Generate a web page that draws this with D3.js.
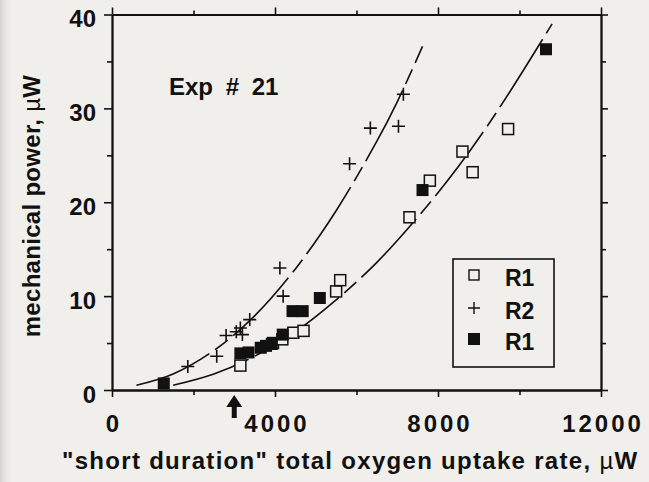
<!DOCTYPE html>
<html>
<head>
<meta charset="utf-8">
<script src="https://cdn.jsdelivr.net/npm/d3@7"></script>
<style>
  html, body { margin: 0; padding: 0; background: #f1efec; }
  svg { display: block; }
  text { font-family: 'Liberation Sans', Arial, Helvetica, sans-serif; font-weight: bold; fill: #111; }
  tspan.mu { font-weight: normal; }
</style>
</head>
<body>
<script>
// Axis ticks
const xMajorTicks = [0, 4000, 8000, 12000];
const xMinorTicks = [2000, 6000, 10000];
const yMajorTicks = [0, 10, 20, 30, 40];
const yMinorTicks = [5, 15, 25, 35];

// R1, open squares
const r1OpenX = [3150, 3950, 4180, 4450, 4700, 5500, 5600, 7300, 7800, 8850, 8600, 9720];
const r1OpenY = [2.6, 5.0, 5.4, 6.1, 6.3, 10.5, 11.7, 18.4, 22.3, 23.2, 25.4, 27.8];

// R1, filled squares
const r1FilledX = [1270, 3150, 3350, 3650, 3780, 3920, 4190, 4430, 4680, 5100, 7620, 10650];
const r1FilledY = [0.7, 3.9, 4.0, 4.5, 4.7, 4.9, 5.9, 8.4, 8.4, 9.8, 21.3, 36.3];

// R2, crosses
const r2X = [1860, 2570, 2800, 3050, 3150, 3200, 3380, 4120, 4200, 5830, 6340, 7030, 7150];
const r2Y = [2.5, 3.6, 5.8, 6.2, 6.6, 5.9, 7.5, 13.0, 10.0, 24.1, 27.9, 28.1, 31.5];

// Fitted curves
const r2CurveX = [600, 1500, 2500, 3500, 4500, 5500, 6500, 7000, 7620];
const r2CurveY = [0.5, 1.7, 4.2, 7.9, 12.9, 19.1, 26.5, 30.7, 36.6];
const r1CurveX = [1500, 2500, 3500, 4500, 5500, 6500, 7500, 8500, 9500, 10800];
const r1CurveY = [0.5, 1.7, 3.6, 6.2, 9.6, 13.6, 18.4, 23.8, 30.0, 39.0];

// Marked oxygen uptake rate on the x axis
const arrowMark = 3000;

const legendLabels = ["R1", "R2", "R1"];

const W = 649, H = 482;
const bg = "#f1efec", ink = "#111";

const svg = d3.select("body").append("svg").attr("width", W).attr("height", H);

// soft shading along the left edge
const defs = svg.append("defs");
const grad = defs.append("linearGradient").attr("id", "edge").attr("x1", 0).attr("x2", 1);
grad.append("stop").attr("offset", 0).attr("stop-color", "#d6d4d2");
grad.append("stop").attr("offset", 1).attr("stop-color", bg).attr("stop-opacity", 0);
svg.append("rect").attr("width", 14).attr("height", H).attr("fill", "url(#edge)");

const x = d3.scaleLinear().domain([0, 12000]).range([112, 601]);
const y = d3.scaleLinear().domain([0, 40]).range([390, 14.5]);
const fmt = d3.format("d");

function styleAxis(g) {
  g.selectAll("path.domain").attr("stroke", ink).attr("stroke-width", 1.8);
  g.selectAll(".tick line").attr("stroke", ink).attr("stroke-width", 1.6);
  g.selectAll("text").attr("font-family", null).attr("font-size", null);
}

// left axis
const gl = svg.append("g").attr("transform", `translate(${x(0)},0)`);
gl.call(d3.axisLeft(y).tickValues(yMajorTicks).tickFormat(fmt).tickSize(8).tickSizeOuter(0).tickPadding(8));
gl.selectAll("text").attr("dy", "0.5em").style("font-size", "24px");
styleAxis(gl);
const glm = svg.append("g").attr("transform", `translate(${x(0)},0)`);
glm.call(d3.axisLeft(y).tickValues(yMinorTicks).tickSize(5).tickSizeOuter(0).tickFormat(""));
styleAxis(glm);

// bottom axis
const gb = svg.append("g").attr("transform", `translate(0,${y(0)})`);
gb.call(d3.axisBottom(x).tickValues(xMajorTicks).tickFormat(fmt).tickSize(7).tickSizeOuter(0).tickPadding(18));
gb.selectAll("text").style("font-size", "24px").style("letter-spacing", "3px").attr("dx", 1.5);
styleAxis(gb);
const gbm = svg.append("g").attr("transform", `translate(0,${y(0)})`);
gbm.call(d3.axisBottom(x).tickValues(xMinorTicks).tickSize(5).tickSizeOuter(0).tickFormat(""));
styleAxis(gbm);

// top axis
const gt = svg.append("g").attr("transform", `translate(0,${y(40)})`);
gt.call(d3.axisTop(x).tickValues(xMajorTicks).tickSize(7).tickSizeOuter(0).tickFormat(""));
styleAxis(gt);
const gtm = svg.append("g").attr("transform", `translate(0,${y(40)})`);
gtm.call(d3.axisTop(x).tickValues(xMinorTicks).tickSize(4).tickSizeOuter(0).tickFormat(""));
styleAxis(gtm);

// right axis
const gr = svg.append("g").attr("transform", `translate(${x(12000)},0)`);
gr.call(d3.axisRight(y).tickValues(yMajorTicks).tickSize(7).tickSizeOuter(0).tickFormat(""));
styleAxis(gr);
const grm = svg.append("g").attr("transform", `translate(${x(12000)},0)`);
grm.call(d3.axisRight(y).tickValues(yMinorTicks).tickSize(5).tickSizeOuter(0).tickFormat(""));
styleAxis(grm);

// axis titles (the micro sign is set in a lighter weight)
const yTitle = svg.append("text")
  .attr("transform", "translate(40,206) rotate(-90)")
  .attr("text-anchor", "middle")
  .style("font-size", "24px")
  .style("letter-spacing", "0.3px");
yTitle.append("tspan").text("mechanical power, ");
yTitle.append("tspan").attr("class", "mu").text("\u00B5");
yTitle.append("tspan").text("W");

const xTitle = svg.append("text")
  .attr("x", 62).attr("y", 469)
  .style("font-size", "24px")
  .style("letter-spacing", "1.3px");
xTitle.append("tspan").text("\"short duration\" total oxygen uptake rate, ");
xTitle.append("tspan").attr("class", "mu").text("\u00B5");
xTitle.append("tspan").text("W");

// experiment label
svg.append("text")
  .attr("x", 169).attr("y", 95)
  .style("font-size", "24px")
  .style("word-spacing", "6px")
  .text("Exp # 21");

// fitted curves
const line = d3.line().x(d => x(d[0])).y(d => y(d[1])).curve(d3.curveCatmullRom.alpha(0.5));
const curves = [d3.zip(r2CurveX, r2CurveY), d3.zip(r1CurveX, r1CurveY)];
svg.append("g").selectAll("path").data(curves).join("path")
  .attr("d", line)
  .attr("fill", "none")
  .attr("stroke", ink)
  .attr("stroke-width", 1.6)
  .attr("stroke-dasharray", "80,7,16,7");

// markers
const sq = 11, sqF = 12, cr = 13;
svg.append("g").selectAll("rect").data(d3.zip(r1OpenX, r1OpenY)).join("rect")
  .attr("x", d => x(d[0]) - sq / 2).attr("y", d => y(d[1]) - sq / 2)
  .attr("width", sq).attr("height", sq)
  .attr("fill", bg).attr("stroke", ink).attr("stroke-width", 1.5);

svg.append("g").selectAll("rect").data(d3.zip(r1FilledX, r1FilledY)).join("rect")
  .attr("x", d => x(d[0]) - sqF / 2).attr("y", d => y(d[1]) - sqF / 2)
  .attr("width", sqF).attr("height", sqF)
  .attr("fill", ink);

const crossPath = s => `M${-s / 2},0H${s / 2}M0,${-s / 2}V${s / 2}`;
svg.append("g").selectAll("path").data(d3.zip(r2X, r2Y)).join("path")
  .attr("transform", d => `translate(${x(d[0])},${y(d[1])})`)
  .attr("d", crossPath(cr))
  .attr("fill", "none").attr("stroke", ink).attr("stroke-width", 1.6);

// arrow marking the rate on the x axis
const ax = x(arrowMark), ay = y(0) + 5;
svg.append("path")
  .attr("d", `M${ax},${ay}L${ax + 8},${ay + 12}L${ax + 2.5},${ay + 12}L${ax + 2.5},${ay + 23}L${ax - 2.5},${ay + 23}L${ax - 2.5},${ay + 12}L${ax - 8},${ay + 12}Z`)
  .attr("fill", ink);

// legend
const lg = svg.append("g").attr("transform", "translate(453,259)");
lg.append("rect").attr("width", 101).attr("height", 108)
  .attr("fill", bg).attr("stroke", ink).attr("stroke-width", 1.6);
const rowY = [16, 49, 80];
lg.append("rect").attr("x", 21 - 5).attr("y", rowY[0] - 5).attr("width", 10).attr("height", 10)
  .attr("fill", bg).attr("stroke", ink).attr("stroke-width", 1.4);
lg.append("path").attr("transform", `translate(21,${rowY[1]})`).attr("d", crossPath(12))
  .attr("stroke", ink).attr("stroke-width", 1.4);
lg.append("rect").attr("x", 21 - 6).attr("y", rowY[2] - 6).attr("width", 12).attr("height", 12)
  .attr("fill", ink);
lg.selectAll("text.lab").data(legendLabels).join("text")
  .attr("class", "lab")
  .attr("x", 52).attr("y", (d, i) => rowY[i] + 11)
  .style("font-size", "23px")
  .text(d => d);
</script>
</body>
</html>
